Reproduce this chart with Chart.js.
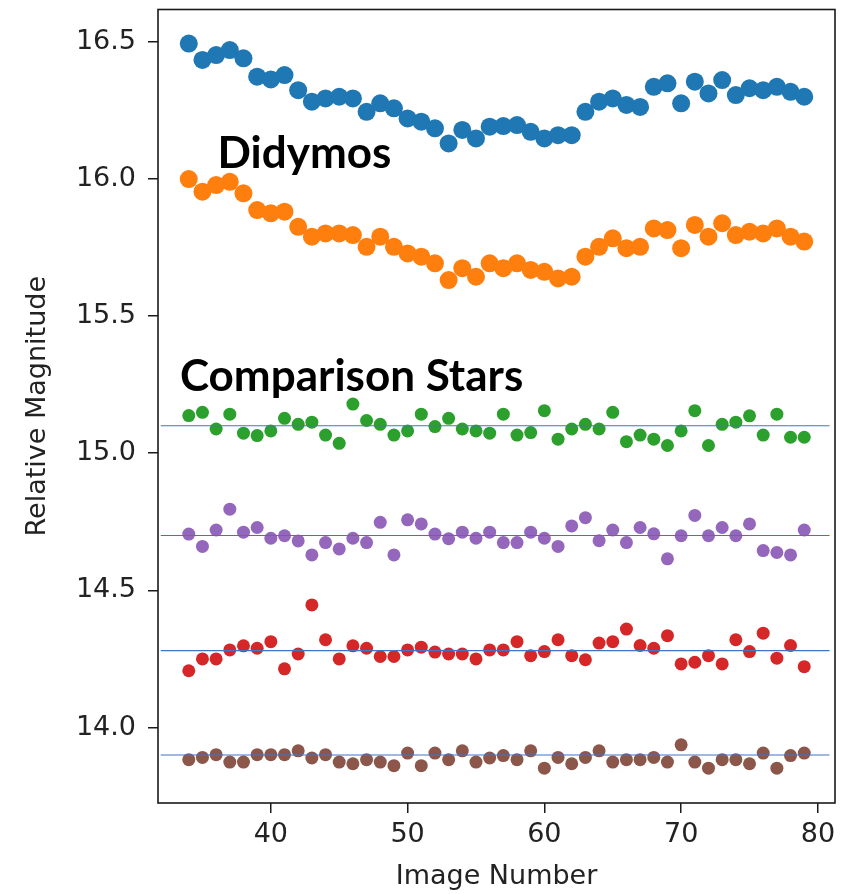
<!DOCTYPE html>
<html>
<head>
<meta charset="utf-8">
<script src="https://cdn.jsdelivr.net/npm/chart.js@4.4.1/dist/chart.umd.min.js"></script>
<style>
  html, body { margin: 0; padding: 0; background: #fff; }
  #wrap { position: relative; width: 858px; height: 894px; }
</style>
</head>
<body>
<div id="wrap"><canvas id="chart"></canvas></div>
<script>
// image numbers on the x axis
const imageNumbers = [34, 35, 36, 37, 38, 39, 40, 41, 42, 43, 44, 45, 46, 47, 48, 49, 50, 51, 52, 53, 54, 55, 56,
    57, 58, 59, 60, 61, 62, 63, 64, 65, 66, 67, 68, 69, 70, 71, 72, 73, 74, 75, 76, 77, 78, 79];

// Didymos (two apertures)
const didymosBlue = [16.493, 16.433, 16.451, 16.469, 16.439, 16.372, 16.362, 16.378, 16.323, 16.281, 16.293, 16.299,
    16.293, 16.244, 16.275, 16.257, 16.220, 16.208, 16.184, 16.129, 16.178, 16.147, 16.190,
    16.192, 16.196, 16.171, 16.147, 16.159, 16.159, 16.244, 16.281, 16.293, 16.269, 16.262, 16.335,
    16.348, 16.275, 16.354, 16.311, 16.360, 16.305, 16.330, 16.323, 16.335, 16.317, 16.299];
const didymosOrange = [15.999, 15.953, 15.977, 15.989, 15.947, 15.886, 15.874, 15.880, 15.825, 15.789, 15.801, 15.801,
    15.795, 15.752, 15.789, 15.752, 15.728, 15.716, 15.692, 15.631, 15.674, 15.643, 15.692,
    15.674, 15.692, 15.668, 15.661, 15.637, 15.643, 15.716, 15.752, 15.783, 15.747, 15.752, 15.819,
    15.813, 15.747, 15.832, 15.789, 15.838, 15.795, 15.807, 15.801, 15.819, 15.789, 15.771];

// comparison stars
const starGreen = [15.137, 15.149, 15.088, 15.142, 15.073, 15.064, 15.081, 15.127, 15.105, 15.113, 15.066, 15.036,
    15.179, 15.119, 15.105, 15.066, 15.081, 15.142, 15.097, 15.127, 15.088, 15.081, 15.073,
    15.142, 15.066, 15.075, 15.155, 15.051, 15.088, 15.105, 15.088, 15.149, 15.042, 15.066, 15.051,
    15.028, 15.081, 15.155, 15.028, 15.105, 15.113, 15.136, 15.066, 15.142, 15.058, 15.058];
const starPurple = [14.705, 14.660, 14.720, 14.796, 14.712, 14.729, 14.690, 14.699, 14.680, 14.629, 14.674, 14.651,
    14.690, 14.674, 14.748, 14.629, 14.757, 14.742, 14.705, 14.688, 14.712, 14.690, 14.712,
    14.674, 14.674, 14.712, 14.690, 14.660, 14.735, 14.765, 14.681, 14.720, 14.674, 14.729, 14.706,
    14.615, 14.699, 14.773, 14.699, 14.729, 14.699, 14.742, 14.645, 14.638, 14.629, 14.720];
const starRed = [14.207, 14.250, 14.250, 14.283, 14.298, 14.289, 14.313, 14.214, 14.268, 14.447, 14.320, 14.250,
    14.298, 14.289, 14.259, 14.259, 14.283, 14.293, 14.275, 14.268, 14.268, 14.250, 14.283,
    14.283, 14.313, 14.262, 14.277, 14.320, 14.262, 14.247, 14.308, 14.313, 14.359, 14.299, 14.289,
    14.335, 14.232, 14.238, 14.262, 14.232, 14.320, 14.277, 14.344, 14.253, 14.299, 14.222];
const starBrown = [13.883, 13.891, 13.901, 13.874, 13.874, 13.901, 13.901, 13.901, 13.915, 13.889, 13.901, 13.874,
    13.868, 13.883, 13.874, 13.861, 13.907, 13.861, 13.907, 13.883, 13.915, 13.874, 13.889,
    13.898, 13.883, 13.915, 13.852, 13.891, 13.868, 13.891, 13.915, 13.874, 13.883, 13.883, 13.891,
    13.874, 13.937, 13.874, 13.852, 13.883, 13.883, 13.868, 13.907, 13.852, 13.898, 13.907];

// mean level of each comparison star (thin reference lines)
const starLevels = [15.10, 14.70, 14.28, 13.90];
const levelSpan = [31.95, 80.85];

const xTicks = [40, 50, 60, 70, 80];
const yTicks = [14.0, 14.5, 15.0, 15.5, 16.0, 16.5];

const labels = [
    { text: 'Didymos', x: 36.1, y: 16.04 },
    { text: 'Comparison Stars', x: 33.35, y: 15.227 },
];

const points = (values) => imageNumbers.map((x, i) => ({ x, y: values[i] }));

const scatterSet = (data, color, radius) => ({
    data: points(data),
    backgroundColor: color,
    borderColor: color,
    borderWidth: 0,
    pointRadius: radius,
    order: 2,
});

const levelSets = starLevels.map((level) => ({
    data: levelSpan.map((x) => ({ x, y: level })),
    showLine: true,
    borderColor: '#4472c4',
    borderWidth: 1.2,
    pointRadius: 0,
    order: 1,
}));

const frame = {
    id: 'frame',
    afterDraw(chart) {
        const { ctx, chartArea: { left, top, right, bottom } } = chart;
        ctx.save();
        ctx.strokeStyle = '#1a1a1a';
        ctx.lineWidth = 1.6;
        ctx.strokeRect(left, top, right - left, bottom - top);
        ctx.restore();
    },
};

const annotations = {
    id: 'annotations',
    afterDatasetsDraw(chart) {
        const { ctx, scales: { x, y } } = chart;
        ctx.save();
        ctx.fillStyle = '#000';
        ctx.font = 'bold 44px Lato, "Open Sans", sans-serif';
        ctx.textAlign = 'left';
        ctx.textBaseline = 'alphabetic';
        labels.forEach((l) => ctx.fillText(l.text, x.getPixelForValue(l.x), y.getPixelForValue(l.y)));
        ctx.restore();
    },
};

const tickFont = { family: '"DejaVu Sans"', size: 27 };

new Chart(document.getElementById('chart'), {
    type: 'scatter',
    data: {
        datasets: [
            ...levelSets,
            scatterSet(didymosBlue, '#1f77b4', 9),
            scatterSet(didymosOrange, '#ff7f0e', 9),
            scatterSet(starGreen, '#2ca02c', 6.5),
            scatterSet(starPurple, '#9467bd', 6.5),
            scatterSet(starRed, '#d62728', 6.5),
            scatterSet(starBrown, '#8c564b', 6.5),
        ],
    },
    options: {
        responsive: true,
        maintainAspectRatio: false,
        animation: false,
        devicePixelRatio: 1,
        layout: { autoPadding: false, padding: { left: 0, right: 23, top: 9.5, bottom: 0 } },
        scales: {
            x: {
                type: 'linear',
                min: 31.75,
                max: 81.25,
                afterBuildTicks: (scale) => { scale.ticks = xTicks.map((value) => ({ value })); },
                afterFit: (scale) => {
                    scale.height = 91;
                    scale.paddingLeft = 0;
                    scale.paddingRight = 0;
                },
                grid: { display: true, drawOnChartArea: false, drawTicks: true, tickLength: 10, color: '#1a1a1a', lineWidth: 1.5 },
                border: { display: false },
                ticks: { font: tickFont, color: '#222', padding: 6, maxRotation: 0, callback: (v) => String(v) },
                title: { display: true, text: 'Image Number', font: tickFont, color: '#222', padding: { top: 0, bottom: 1 } },
            },
            y: {
                type: 'linear',
                min: 13.725,
                max: 16.617,
                afterBuildTicks: (scale) => { scale.ticks = yTicks.map((value) => ({ value })); },
                afterFit: (scale) => {
                    scale.width = 158;
                    scale.paddingTop = 0;
                    scale.paddingBottom = 0;
                },
                grid: { display: true, drawOnChartArea: false, drawTicks: true, tickLength: 10, color: '#1a1a1a', lineWidth: 1.5 },
                border: { display: false },
                ticks: { font: tickFont, color: '#222', padding: 12, callback: (v) => Number(v).toFixed(1) },
                title: { display: true, text: 'Relative Magnitude', font: tickFont, color: '#222', padding: { top: 22, bottom: 0 } },
            },
        },
        plugins: {
            legend: { display: false },
            title: { display: false },
            tooltip: { enabled: false },
        },
    },
    plugins: [frame, annotations],
});
</script>
</body>
</html>
